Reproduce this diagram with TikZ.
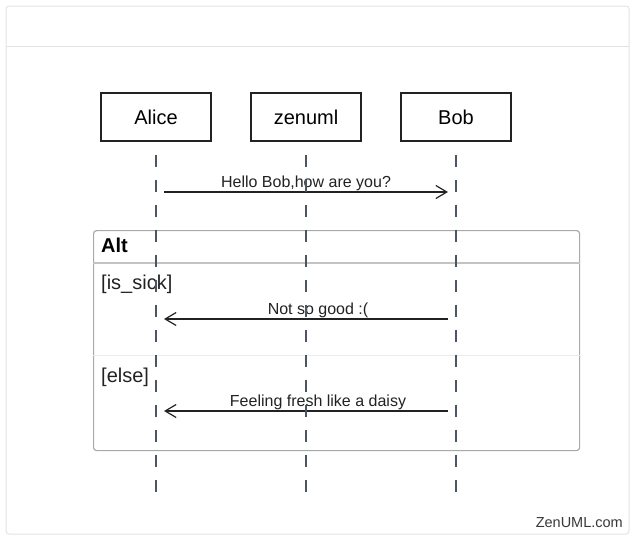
\documentclass[tikz,border=0pt]{standalone}
\usepackage{fontspec}
\setmainfont{Liberation Sans}
\usepackage{tikz}
\usetikzlibrary{arrows.meta}
\usetikzlibrary{calc}

\definecolor{lifegray}{HTML}{4B5563}
\definecolor{framegray}{HTML}{E3E3E3}
\definecolor{altgray}{HTML}{A9A9A9}
\definecolor{divgray}{HTML}{EBEBEB}
\definecolor{inkgray}{HTML}{222222}

\begin{document}
\begin{tikzpicture}[x=1pt,y=-1pt,
		actor/.style={draw=inkgray,line width=1.2pt,minimum width=110pt,minimum height=48pt,font=\fontsize{20}{24}\selectfont},
		lifeline/.style={line width=1.6pt,color=lifegray,dash pattern=on 12pt off 13pt,shorten <=13pt},
		msg/.style={line width=1.2pt,color=inkgray,shorten <=8pt,shorten >=8pt,-{Straight Barb[length=11pt,width=13pt]}},
		lbl/.style={above,inner sep=1pt,text=inkgray,font=\fontsize{16}{19}\selectfont},
		guard/.style={anchor=base west,inner sep=0pt,text=inkgray,font=\fontsize{20}{24}\selectfont}]
		\useasboundingbox (0,0) rectangle (635,541);
		% outer frame
		\draw[framegray,line width=1pt,rounded corners=3pt] (6,6) rectangle (629,534);
		\draw[framegray,line width=1pt] (6,46) -- (629,46);
		% participants
		\node[actor] (alice) at (156,117) {Alice};
		\node[actor] (zenuml) at (306,117) {zenuml};
		\node[actor] (bob) at (456,117) {Bob};
		% alt fragment
		\node[draw=altgray,line width=1.2pt,rounded corners=3pt,anchor=north west,minimum width=486pt,minimum height=220pt] (alt) at (93,230) {};
		\draw[color=altgray!70,line width=1.5pt] ($(alt.north west)+(0,33)$) -- ($(alt.north east)+(0,33)$);
		\draw[divgray,line width=1pt] (alt.west |- 0,355) -- (alt.east |- 0,355);
		\node[guard,font=\fontsize{20}{24}\selectfont\bfseries,text=black] (alttitle) at (101,252) {Alt};
		\node[guard] (sick) at (101,289) {[is\_sick]};
		\node[guard] (else) at (101,382) {[else]};
		% messages
		\draw[msg] (alice |- 0,192) -- node[lbl]{Hello Bob,how are you?} (bob |- 0,192);
		\draw[msg] (bob |- 0,319) -- node[lbl,xshift=12pt]{Not so good :(} (alice |- 0,319);
		\draw[msg] (bob |- 0,411) -- node[lbl,xshift=12pt]{Feeling fresh like a daisy} (alice |- 0,411);
		% lifelines on top
		\foreach \p in {alice,zenuml,bob}{
			\coordinate (\p-end) at (\p.south |- 0,492);
			\draw[lifeline] (\p.south) -- (\p-end);
		}
		\node[anchor=base east,inner sep=0pt,text=inkgray!90,font=\fontsize{14.5}{17}\selectfont] (brand) at (623,527) {ZenUML.com};
\end{tikzpicture}
\end{document}
